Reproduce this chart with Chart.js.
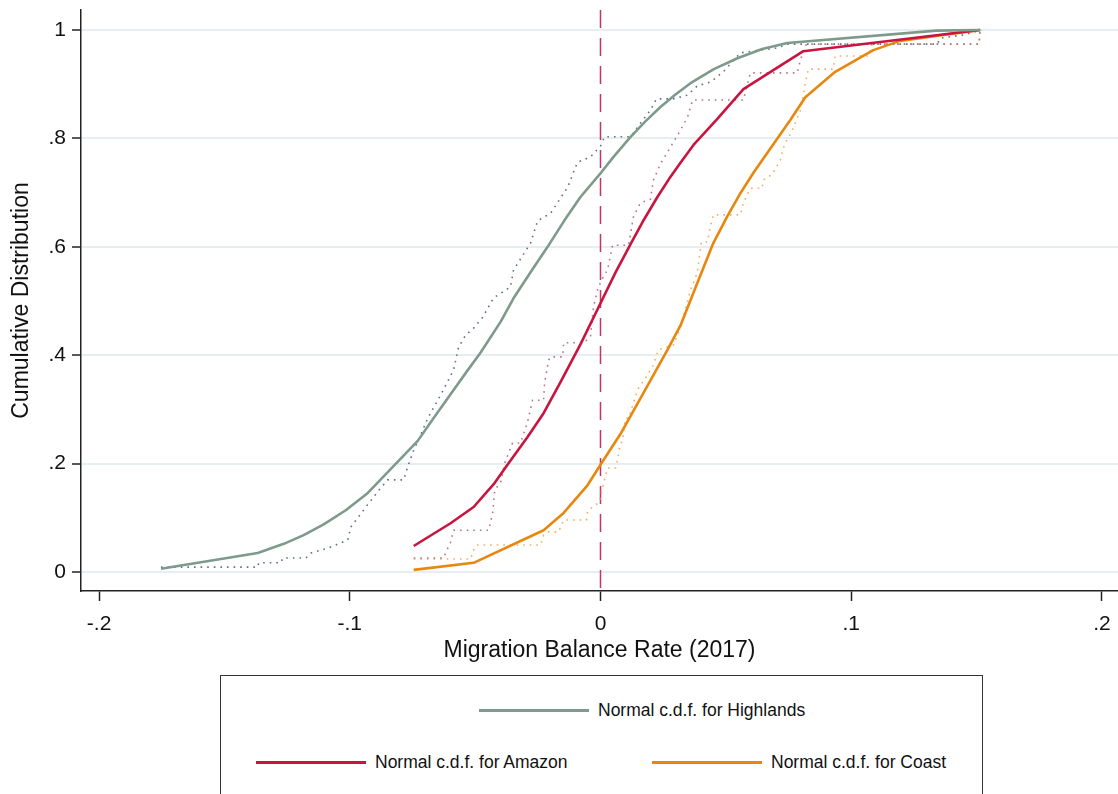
<!DOCTYPE html>
<html>
<head>
<meta charset="utf-8">
<script src="https://cdn.jsdelivr.net/npm/chart.js@4/dist/chart.umd.min.js"></script>
<style>
  body { margin: 0; background: #fff; font-family: "Liberation Sans", Arial, sans-serif; }
  #wrap { position: relative; width: 1118px; height: 794px; overflow: hidden; }
  #box { position: absolute; left: 0; top: 0; width: 1118px; height: 670px; }
  #legend { position: absolute; left: 220px; top: 675px; width: 763px; height: 140px;
            border: 1.5px solid #333; box-sizing: border-box; }
  .item { position: absolute; display: flex; align-items: center; font-size: 17.5px; color: #111; }
  .item span.swatch { display: inline-block; width: 110px; height: 3px; margin-right: 9px; }
</style>
</head>
<body>
<div id="wrap">
  <div id="box"><canvas id="cdf-plot"></canvas></div>
  <div id="legend"></div>
</div>
<script>
// normal c.d.f. curves (x, F) at the drawn vertices
const highlandsNormX = [-0.1753, -0.1367, -0.1263, -0.1184, -0.1104, -0.1016, -0.0928, -0.0837, -0.0729, -0.0664, -0.0598, -0.0538, -0.0478, -0.0398, -0.0347, -0.0279, -0.0211, -0.0145, -0.008, 0.0004, 0.0052, 0.012, 0.018, 0.0239, 0.0299, 0.0359, 0.0452, 0.0546, 0.0645, 0.0745, 0.134, 0.1514];
const highlandsNormY = [0.006, 0.035, 0.052, 0.068, 0.088, 0.114, 0.146, 0.190, 0.242, 0.285, 0.328, 0.367, 0.405, 0.462, 0.505, 0.553, 0.600, 0.648, 0.692, 0.738, 0.766, 0.803, 0.832, 0.858, 0.881, 0.902, 0.928, 0.948, 0.965, 0.976, 0.999, 1.0];

const amazonNormX = [-0.0745, -0.0598, -0.0506, -0.0426, -0.0371, -0.0291, -0.0227, -0.0159, -0.008, 0.0, 0.006, 0.012, 0.0173, 0.0227, 0.0273, 0.0319, 0.0371, 0.0466, 0.057, 0.0809, 0.1514];
const amazonNormY = [0.048, 0.090, 0.120, 0.162, 0.198, 0.249, 0.293, 0.351, 0.420, 0.496, 0.553, 0.605, 0.650, 0.692, 0.725, 0.755, 0.788, 0.836, 0.891, 0.961, 1.0];

const coastNormX = [-0.0745, -0.0506, -0.0227, -0.0147, -0.0052, 0.0, 0.008, 0.0171, 0.0267, 0.0319, 0.0385, 0.045, 0.0504, 0.0558, 0.0612, 0.0665, 0.0757, 0.0817, 0.0936, 0.1088, 0.1195, 0.1514];
const coastNormY = [0.004, 0.017, 0.077, 0.109, 0.160, 0.198, 0.255, 0.330, 0.410, 0.455, 0.532, 0.607, 0.655, 0.699, 0.738, 0.773, 0.834, 0.876, 0.923, 0.963, 0.980, 1.0];

// empirical c.d.f. traces (x, F), plateau ends included
const highlandsEmpX = [-0.1753, -0.1367, -0.1363, -0.1275, -0.1267, -0.1175, -0.1155, -0.1088, -0.1008, -0.0996, -0.0968, -0.0936, -0.0884, -0.0849, -0.0785, -0.0769, -0.0745, -0.0717, -0.0689, -0.0637, -0.0586, -0.0566, -0.0538, -0.0506, -0.047, -0.0426, -0.0359, -0.0347, -0.0279, -0.0251, -0.0199, -0.0131, -0.0092, -0.004, 0.0, 0.0016, 0.012, 0.0159, 0.0199, 0.0223, 0.0291, 0.0347, 0.0386, 0.0438, 0.049, 0.0558, 0.0705, 0.0745, 0.1343, 0.1355, 0.1446, 0.1518];
const highlandsEmpY = [0.009, 0.009, 0.017, 0.017, 0.026, 0.026, 0.035, 0.044, 0.059, 0.083, 0.100, 0.120, 0.151, 0.170, 0.170, 0.194, 0.225, 0.253, 0.284, 0.327, 0.373, 0.415, 0.437, 0.450, 0.470, 0.506, 0.526, 0.557, 0.607, 0.648, 0.662, 0.710, 0.756, 0.766, 0.786, 0.803, 0.803, 0.828, 0.852, 0.873, 0.873, 0.880, 0.897, 0.904, 0.923, 0.958, 0.967, 0.974, 0.974, 0.985, 0.991, 1.0];

const amazonEmpX = [-0.0745, -0.0625, -0.0618, -0.0598, -0.0586, -0.0446, -0.043, -0.0422, -0.0398, -0.0382, -0.0351, -0.0319, -0.0291, -0.0271, -0.0227, -0.0223, -0.0207, -0.0199, -0.0151, -0.0147, -0.0068, -0.004, -0.0028, -0.0012, 0.0004, 0.0028, 0.0048, 0.0112, 0.0131, 0.0159, 0.0199, 0.0211, 0.0239, 0.0279, 0.0315, 0.0347, 0.0367, 0.057, 0.0598, 0.0785, 0.0797, 0.0821, 0.151, 0.1514];
const amazonEmpY = [0.026, 0.026, 0.035, 0.055, 0.077, 0.077, 0.109, 0.151, 0.166, 0.201, 0.238, 0.238, 0.277, 0.317, 0.317, 0.349, 0.391, 0.397, 0.397, 0.423, 0.423, 0.434, 0.489, 0.520, 0.539, 0.557, 0.603, 0.603, 0.655, 0.681, 0.688, 0.723, 0.753, 0.784, 0.812, 0.839, 0.871, 0.871, 0.921, 0.921, 0.945, 0.974, 0.974, 1.0];

const coastEmpX = [-0.0745, -0.0518, -0.0506, -0.0494, -0.0239, -0.0227, -0.0207, -0.0167, -0.0159, -0.0147, -0.0056, -0.0052, -0.0028, -0.0008, 0.0, 0.0012, 0.0028, 0.006, 0.0068, 0.0076, 0.0088, 0.01, 0.0112, 0.0131, 0.0151, 0.0187, 0.0211, 0.0231, 0.0291, 0.0319, 0.0359, 0.0386, 0.0398, 0.0402, 0.0426, 0.0438, 0.045, 0.0558, 0.057, 0.059, 0.0598, 0.0645, 0.0649, 0.0685, 0.0717, 0.0733, 0.0765, 0.0797, 0.0817, 0.0829, 0.0928, 0.0936, 0.1068, 0.1084, 0.151, 0.1514];
const coastEmpY = [0.024, 0.024, 0.041, 0.050, 0.050, 0.068, 0.074, 0.074, 0.083, 0.096, 0.096, 0.111, 0.122, 0.127, 0.138, 0.164, 0.192, 0.192, 0.207, 0.229, 0.244, 0.284, 0.284, 0.312, 0.339, 0.363, 0.382, 0.410, 0.419, 0.452, 0.520, 0.552, 0.594, 0.609, 0.609, 0.637, 0.659, 0.659, 0.681, 0.701, 0.708, 0.708, 0.723, 0.734, 0.760, 0.788, 0.815, 0.852, 0.902, 0.928, 0.928, 0.952, 0.952, 0.974, 0.974, 1.0];

const xTicks = [-0.2, -0.1, 0, 0.1, 0.2];
const yTicks = [0, 0.2, 0.4, 0.6, 0.8, 1];

const legendLabels = ['Normal c.d.f. for Highlands', 'Normal c.d.f. for Amazon', 'Normal c.d.f. for Coast'];
const colors = { highlands: '#7d9a8b', amazon: '#c8143f', coast: '#e8870e' };

function pts(xs, ys) {
  return xs.map((x, i) => ({ x: x, y: ys[i] }));
}

function stataNum(v) {
  if (v === 0) return '0';
  return String(Math.round(v * 10) / 10).replace('0.', '.');
}

// dashed reference line at x = 0
const zeroLine = {
  id: 'zeroLine',
  beforeDatasetsDraw(chart) {
    const { ctx, chartArea, scales } = chart;
    const px = scales.x.getPixelForValue(0);
    ctx.save();
    ctx.strokeStyle = '#c4346b';
    ctx.lineWidth = 1.5;
    ctx.setLineDash([18, 10]);
    ctx.beginPath();
    ctx.moveTo(px, chartArea.top);
    ctx.lineTo(px, chartArea.bottom);
    ctx.stroke();
    ctx.restore();
  }
};

function solid(label, data, color) {
  return { label: label, data: data, borderColor: color, borderWidth: 2.6, showLine: true,
           borderJoinStyle: 'round', pointRadius: 0, order: 1 };
}
function dotted(data, color) {
  return { label: '', data: data, borderColor: color, borderWidth: 1.6, showLine: true,
           borderDash: [1.6, 5], pointRadius: 0, order: 2 };
}

const tickFont = { family: '"Liberation Sans", Arial', size: 21 };
const titleFont = { family: '"Liberation Sans", Arial', size: 23 };

const chartConfig = {
  type: 'scatter',
  data: {
    datasets: [
      solid(legendLabels[0], pts(highlandsNormX, highlandsNormY), colors.highlands),
      solid(legendLabels[1], pts(amazonNormX, amazonNormY), colors.amazon),
      solid(legendLabels[2], pts(coastNormX, coastNormY), colors.coast),
      dotted(pts(highlandsEmpX, highlandsEmpY), '#5f7189'),
      dotted(pts(amazonEmpX, amazonEmpY), '#b77483'),
      dotted(pts(coastEmpX, coastEmpY), '#f3ad5f')
    ]
  },
  options: {
    responsive: true,
    maintainAspectRatio: false,
    animation: false,
    layout: { padding: { top: 10, right: 0, left: 0, bottom: 0 } },
    plugins: { legend: { display: false }, tooltip: { enabled: false } },
    scales: {
      x: {
        type: 'linear',
        min: -0.2072,
        max: 0.2064,
        afterBuildTicks: (axis) => { axis.ticks = xTicks.map(v => ({ value: v })); },
        afterFit: (axis) => { axis.height = 79; axis.paddingLeft = 0; axis.paddingRight = 0; },
        grid: { drawOnChartArea: false, drawTicks: true, tickLength: 10, tickColor: '#222', tickWidth: 1.5 },
        border: { display: true, color: '#222', width: 1.5 },
        ticks: { callback: (v) => stataNum(v), color: '#111', padding: 11, font: tickFont },
        title: { display: true, text: 'Migration Balance Rate (2017)', color: '#111',
                 padding: { top: 0, bottom: 6 }, font: titleFont }
      },
      y: {
        type: 'linear',
        min: -0.035,
        max: 1.037,
        afterBuildTicks: (axis) => { axis.ticks = yTicks.map(v => ({ value: v })); },
        afterFit: (axis) => { axis.width = 81; axis.paddingTop = 0; axis.paddingBottom = 0; },
        grid: { color: '#e7eef1', lineWidth: 2, drawTicks: true, tickLength: 9,
                tickColor: '#222', tickWidth: 1.5 },
        border: { display: true, color: '#222', width: 1.5 },
        ticks: { callback: (v) => stataNum(v), color: '#111', padding: 6, font: tickFont },
        title: { display: true, text: 'Cumulative Distribution', color: '#111',
                 padding: { top: 8, bottom: 0 }, font: titleFont }
      }
    }
  },
  plugins: [zeroLine]
};

new Chart(document.getElementById('cdf-plot'), chartConfig);

// legend box below the plot, laid out like the Stata key
const legendPos = [
  { left: 258, top: 24 },
  { left: 35, top: 76 },
  { left: 431, top: 76 }
];
const legendColors = [colors.highlands, colors.amazon, colors.coast];
const legendEl = document.getElementById('legend');
legendLabels.forEach((txt, i) => {
  const d = document.createElement('div');
  d.className = 'item';
  d.style.left = legendPos[i].left + 'px';
  d.style.top = legendPos[i].top + 'px';
  const sw = document.createElement('span');
  sw.className = 'swatch';
  sw.style.background = legendColors[i];
  d.appendChild(sw);
  d.appendChild(document.createTextNode(txt));
  legendEl.appendChild(d);
});
</script>
</body>
</html>
